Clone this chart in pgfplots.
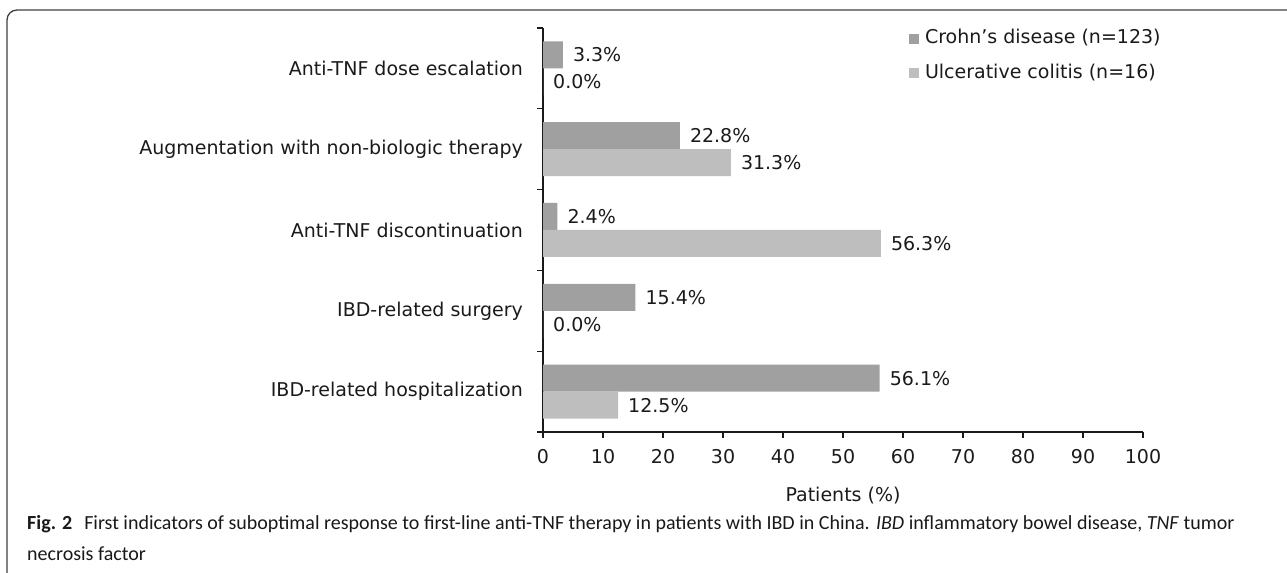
\documentclass[border=0pt]{standalone}
\usepackage{fontspec}
\setmainfont{DejaVu Sans}
\newfontfamily\capfont{Carlito}
\usepackage{pgfplots}
\pgfplotsset{compat=1.18}
\definecolor{cdgray}{HTML}{A0A0A0}
\definecolor{ucgray}{HTML}{BEBEBE}
\definecolor{txt}{HTML}{1A1A1A}
\begin{document}
\fontsize{19bp}{23bp}\selectfont
\begin{tikzpicture}[x=1bp,y=1bp]
\begin{axis}[
  at={(543bp,141bp)}, anchor=south west,
  scale only axis, width=600bp, height=404bp,
  xbar, bar width=27bp,
  xmin=0, xmax=100, ymin=0.5, ymax=5.5,
  axis x line*=bottom, axis y line*=left,
  axis line style={-, line width=1.2bp, color=txt},
  every tick/.style={line width=1.2bp, color=txt},
  tick align=outside, major tick length=6bp,
  xtick={0,10,...,100},
  /pgf/number format/assume math mode=true,
  xticklabel style={text=txt, inner sep=0pt, anchor=center, yshift=-19bp},
  ytick={0.5,1.5,2.5,3.5,4.5,5.5},
  yticklabels={,,,,,},
  extra y ticks={1,2,3,4,5},
  extra y tick labels={IBD-related hospitalization,IBD-related surgery,Anti-TNF discontinuation,Augmentation with non-biologic therapy,Anti-TNF dose escalation},
  extra y tick style={major tick length=0pt, tick style={draw=none},
     yticklabel style={text=txt, inner sep=0pt, anchor=east, xshift=-20bp}},
  xlabel={Patients (\%)},
  xlabel style={at={(rel axis cs:0.5,0)}, anchor=center, yshift=-64bp, text=txt},
  nodes near coords={\pgfmathprintnumber[fixed,fixed zerofill,precision=1]{\pgfplotspointmeta}\%},
  nodes near coords align={horizontal},
  every node near coord/.append style={anchor=west, inner sep=0pt, xshift=10bp, text=txt},
  legend cell align=left,
  legend image code/.code={\fill[#1,draw=none] (0bp,-5bp) rectangle (10bp,5bp);},
  legend style={at={(0.61,0.996)}, anchor=north west, draw=none, fill=none,
     inner sep=0pt, outer sep=0pt, row sep=16.6bp,
     nodes={inner sep=0pt, text height=14bp, text depth=4bp, anchor=west, text=txt},
     /tikz/every odd column/.append style={column sep=6bp}},
]
\addplot[fill=cdgray, draw=none, bar shift=13.5bp] coordinates {(56.1,1) (15.4,2) (2.4,3) (22.8,4) (3.3,5)};
\addlegendentry{Crohn’s disease (n=123)}
\addplot[fill=ucgray, draw=none, bar shift=-13.5bp] coordinates {(12.5,1) (0.0,2) (56.3,3) (31.3,4) (0.0,5)};
\addlegendentry{Ulcerative colitis (n=16)}
\end{axis}
\draw[line width=1.3bp, color=black!75, rounded corners=10bp] (7,-30) -- (7,563) -- (1320,563);
\node[anchor=base west, inner sep=0pt, text=black!90, font=\capfont\fontsize{20bp}{24bp}\selectfont] at (27,43) {\textbf{Fig. 2}\hspace{0.6em}First indicators of suboptimal response to first-line anti-TNF therapy in patients with IBD in China. \textit{IBD} inflammatory bowel disease, \textit{TNF} tumor};
\node[anchor=base west, inner sep=0pt, text=black!90, font=\capfont\fontsize{20bp}{24bp}\selectfont] at (27,12) {necrosis factor};
\pgfresetboundingbox
\useasboundingbox (0,0) rectangle (1287,573);
\end{tikzpicture}
\end{document}
